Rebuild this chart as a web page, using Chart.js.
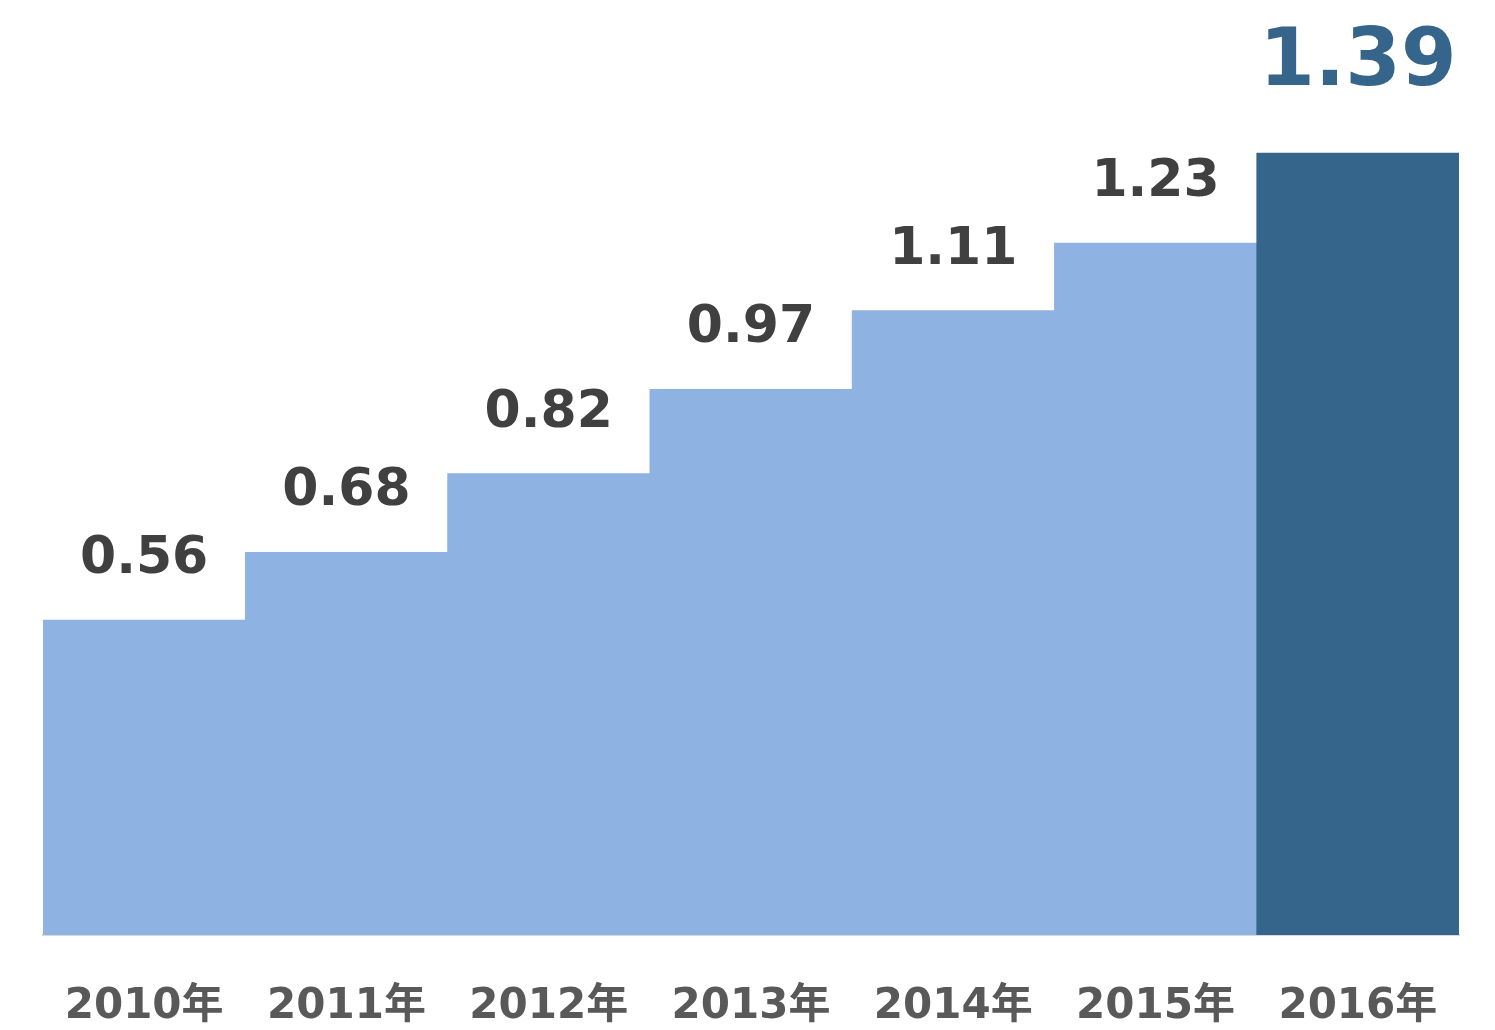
<!DOCTYPE html>
<html lang="ja">
<head>
    <meta charset="UTF-8">
    <title>推移</title>
    <script src="https://cdn.jsdelivr.net/npm/chart.js"></script>
    <style>
        body { margin: 0; background: #fff; }
        #wrap { width: 1495px; height: 1030px; }
    </style>
</head>
<body>
    <div id="wrap">
        <canvas id="stepChart" width="1495" height="1030"></canvas>
    </div>

    <script>
        const years = ['2010年', '2011年', '2012年', '2013年', '2014年', '2015年', '2016年'];
        const values = [0.56, 0.68, 0.82, 0.97, 1.11, 1.23, 1.39];
        const barColors = ['#8EB2E1', '#8EB2E1', '#8EB2E1', '#8EB2E1', '#8EB2E1', '#8EB2E1', '#36658C'];

        const fontFamily = '"DejaVu Sans", "Noto Sans CJK JP", sans-serif';

        // value labels above each bar; the last one is bigger and blue
        const valueLabels = {
            id: 'valueLabels',
            afterDatasetsDraw(chart) {
                const ctx = chart.ctx;
                const meta = chart.getDatasetMeta(0);
                ctx.save();
                ctx.textAlign = 'center';
                ctx.textBaseline = 'alphabetic';
                meta.data.forEach((bar, i) => {
                    const last = i === values.length - 1;
                    ctx.font = last ? `bold 80px ${fontFamily}` : `bold 52px ${fontFamily}`;
                    ctx.fillStyle = last ? '#36658C' : '#404040';
                    ctx.fillText(values[i].toFixed(2), bar.x, bar.y - (last ? 68 : 47));
                });
                ctx.restore();
            }
        };

        new Chart(document.getElementById('stepChart'), {
            type: 'bar',
            data: {
                labels: years,
                datasets: [{
                    data: values,
                    backgroundColor: barColors,
                    borderWidth: 0,
                    categoryPercentage: 1,
                    barPercentage: 1
                }]
            },
            options: {
                responsive: false,
                animation: false,
                layout: { padding: { left: 43, right: 36, top: 0, bottom: 0 } },
                plugins: {
                    legend: { display: false },
                    tooltip: { enabled: false }
                },
                scales: {
                    x: {
                        grid: { display: false, drawTicks: false },
                        border: { display: true, color: '#D9D9D9', width: 2 },
                        ticks: {
                            color: '#595959',
                            padding: 47,
                            font: { family: fontFamily, size: 42, weight: 'bold' }
                        },
                        afterFit: (scale) => { scale.height = 95; }
                    },
                    y: {
                        display: false,
                        min: 0,
                        max: 1.662
                    }
                }
            },
            plugins: [valueLabels]
        });
    </script>
</body>
</html>
